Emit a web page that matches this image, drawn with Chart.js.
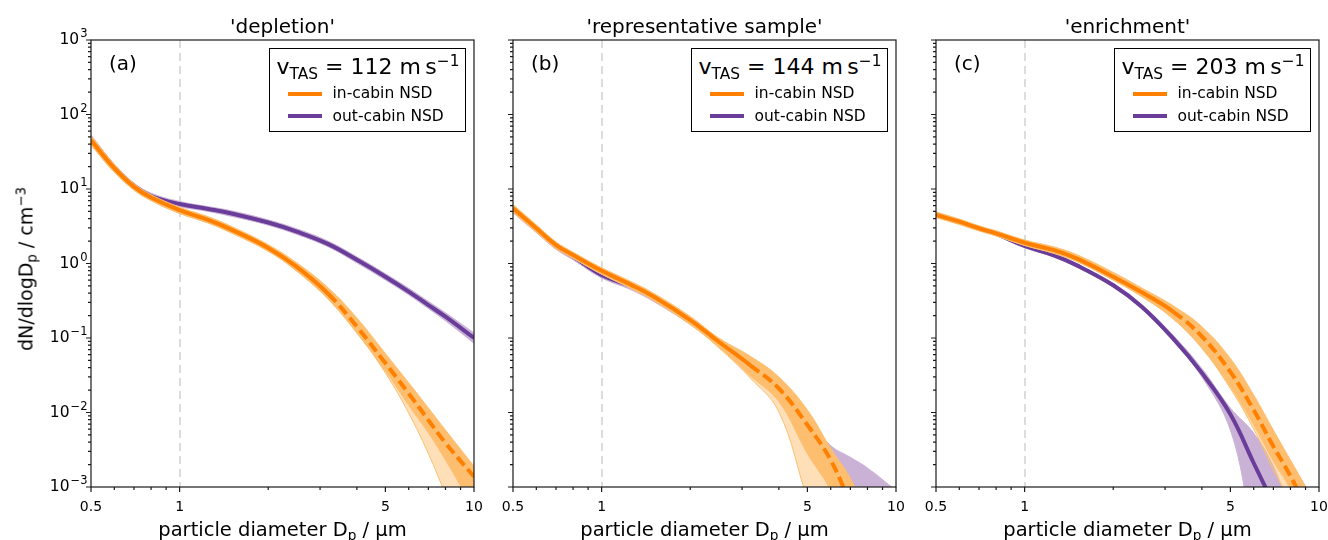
<!DOCTYPE html>
<html>
<head>
<meta charset="utf-8">
<script src="https://cdn.jsdelivr.net/npm/chart.js@4.4.1/dist/chart.umd.min.js"></script>
<style>
  body { margin: 0; background: #fff; }
  #fig { position: relative; width: 1328px; height: 540px; overflow: hidden; font-family: "DejaVu Sans", sans-serif; color: #000; }
  #fig canvas { position: absolute; left: 0; top: 0; }
  .txt { position: absolute; white-space: nowrap; line-height: 1; }
  .title { font-size: 20px; top: 16px; transform: translateX(-50%); }
  .xlabel { font-size: 19.5px; top: 519.5px; transform: translateX(-50%); }
  .ylabel { font-size: 19px; left: 25.5px; top: 269px; transform: translate(-50%, -50%) rotate(-90deg); }
  .tag { font-size: 20px; top: 53px; }
  .ytick { font-size: 15.5px; text-align: right; }
  .ytick sup { font-size: 0.74em; top: -0.6em; margin-left: 1px; }
  .legend { position: absolute; top: 48px; width: 197px; height: 84px; box-sizing: border-box; border: 1.5px solid #000; background: #fff; }
  .legend .vtas { left: 6.5px; top: 7px; font-size: 22px; }
  .legend .swatch { position: absolute; left: 17.5px; width: 34px; height: 4px; }
  .legend .name { left: 62.5px; font-size: 15.5px; }
  sub, sup { font-size: 0.7em; line-height: 0; position: relative; vertical-align: baseline; }
  sub { top: 0.3em; }
  sup { top: -0.5em; }
</style>
</head>
<body>
<div id="fig"></div>
<script>
// ---- data ----
const diameters = [0.5, 0.6, 0.7, 0.8, 1, 1.25, 1.5, 2, 2.5, 3.2, 4, 5, 6, 7, 8, 10];

const titles = ["'depletion'", "'representative sample'", "'enrichment'"];
const tags = ['(a)', '(b)', '(c)'];
const speeds = [112, 144, 203];
const seriesNames = ['in-cabin NSD', 'out-cabin NSD'];

const xTickValues = [0.5, 1, 5, 10];
const xTickLabels = ['0.5', '1', '5', '10'];
const xMinorTicks = [0.6, 0.7, 0.8, 0.9, 2, 3, 4, 6, 7, 8, 9];
const yTickExponents = [-3, -2, -1, 0, 1, 2, 3];
const yTickExpLabels = ['−3', '−2', '−1', '0', '1', '2', '3'];

// (a) depletion
const aInMid  = [45, 19, 10.7, 7.7, 5.2, 3.85, 2.85, 1.62, 0.9, 0.39, 0.142, 0.046, 0.018, 0.0079, 0.0039, 0.00138];
const aInHi   = [52, 21.5, 11.8, 8.4, 5.7, 4.25, 3.15, 1.79, 1.02, 0.47, 0.186, 0.062, 0.025, 0.0115, 0.0058, 0.0019];
const aInLo   = [39, 16.8, 9.7, 7.0, 4.7, 3.5, 2.57, 1.46, 0.79, 0.33, 0.117, 0.036, 0.0125, 0.0053, 0.0023, 0.0005];
const aInFan  = [39, 16.8, 9.7, 7.0, 4.7, 3.5, 2.57, 1.46, 0.79, 0.33, 0.117, 0.034, 0.0098, 0.0028, 0.0008, 0.0001];
const aOutMid = [47, 19.5, 11, 8.05, 6.3, 5.4, 4.7, 3.55, 2.68, 1.82, 1.12, 0.665, 0.42, 0.277, 0.193, 0.1];
const aOutHi  = [53, 21.5, 12, 8.8, 6.8, 5.8, 5.1, 3.85, 2.92, 1.99, 1.23, 0.73, 0.465, 0.31, 0.218, 0.117];
const aOutLo  = [42, 17.5, 10, 7.4, 5.8, 5.0, 4.3, 3.27, 2.46, 1.67, 1.02, 0.6, 0.38, 0.248, 0.17, 0.085];

// (b) representative sample
const bInMid  = [5.5, 2.97, 1.77, 1.3, 0.80, 0.525, 0.36, 0.174, 0.089, 0.043, 0.021, 0.0068, 0.0023, 0.0006, 0.0002, 0.00003];
const bInHi   = [6.2, 3.3, 1.95, 1.42, 0.88, 0.58, 0.40, 0.195, 0.1, 0.057, 0.03, 0.0108, 0.0033, 0.0013, 0.0004, 0.00005];
const bInLo   = [4.9, 2.65, 1.6, 1.18, 0.72, 0.47, 0.32, 0.152, 0.076, 0.031, 0.014, 0.0028, 0.0009, 0.0002, 0.00005, 0.00001];
const bInFan  = [4.9, 2.65, 1.6, 1.18, 0.72, 0.47, 0.32, 0.152, 0.074, 0.029, 0.0102, 0.0007, 0.0001, 0.00003, 0.00001, 0.000005];
const bOutMid = [5.3, 2.9, 1.72, 1.24, 0.70, 0.50, 0.35, 0.172, 0.088, 0.042, 0.02, 0.0066, 0.0022, 0.0006, 0.0002, 0.00005];
const bOutHi  = [5.9, 3.2, 1.9, 1.38, 0.79, 0.55, 0.38, 0.19, 0.097, 0.047, 0.023, 0.0085, 0.0036, 0.0025, 0.0018, 0.0009];
const bOutLo  = [4.8, 2.6, 1.55, 1.12, 0.64, 0.45, 0.31, 0.152, 0.079, 0.037, 0.017, 0.005, 0.0015, 0.0004, 0.0001, 0.00002];

// (c) enrichment
const cInMid  = [4.5, 3.64, 2.97, 2.54, 1.9, 1.52, 1.17, 0.665, 0.41, 0.225, 0.105, 0.035, 0.0108, 0.0035, 0.0014, 0.00025];
const cInHi   = [4.9, 3.95, 3.2, 2.75, 2.07, 1.68, 1.32, 0.76, 0.47, 0.27, 0.142, 0.053, 0.0172, 0.0058, 0.0023, 0.0005];
const cInLo   = [4.15, 3.35, 2.75, 2.35, 1.75, 1.38, 1.07, 0.6, 0.36, 0.18, 0.073, 0.022, 0.0068, 0.0022, 0.0009, 0.00008];
const cInFan  = [4.15, 3.35, 2.75, 2.35, 1.75, 1.38, 1.07, 0.6, 0.36, 0.18, 0.073, 0.021, 0.006, 0.0017, 0.0006, 0.00005];
const cOutMid = [4.6, 3.64, 2.97, 2.5, 1.72, 1.3, 0.95, 0.51, 0.263, 0.098, 0.034, 0.0095, 0.0021, 0.0006, 0.0002, 0.00003];
const cOutHi  = [4.9, 3.85, 3.15, 2.62, 1.82, 1.38, 1.0, 0.54, 0.28, 0.108, 0.039, 0.0115, 0.0053, 0.0019, 0.0005, 0.0001];
const cOutLo  = [4.3, 3.45, 2.8, 2.38, 1.63, 1.23, 0.9, 0.48, 0.245, 0.09, 0.030, 0.0058, 0.0003, 0.00008, 0.00003, 0.00001];

const DASH_FROM = 3.2;     // in-cabin fit is dashed beyond this diameter
const REF_DIAMETER = 1;    // grey dashed guide line

// ---- layout / style ----
const W = 1328, H = 540;
const PLOT_TOP = 40, PLOT_BOTTOM = 487;
const Y_AXIS_W = 60, X_AXIS_H = 30;
const panelLeft = [91, 513, 936];
const panelRight = [474, 896, 1319];

const ORANGE = '#ff7f00', ORANGE_BAND = '#fdbf6f', ORANGE_FAN = 'rgba(253,191,111,0.5)';
const PURPLE = '#6a3d9a', PURPLE_BAND = '#cab2d6';
const FONT = 'DejaVu Sans';

const panels = [
  { inMid: aInMid, inHi: aInHi, inLo: aInLo, inFan: aInFan, outMid: aOutMid, outHi: aOutHi, outLo: aOutLo },
  { inMid: bInMid, inHi: bInHi, inLo: bInLo, inFan: bInFan, outMid: bOutMid, outHi: bOutHi, outLo: bOutLo },
  { inMid: cInMid, inHi: cInHi, inLo: cInLo, inFan: cInFan, outMid: cOutMid, outHi: cOutHi, outLo: cOutLo }
];

function pts(arr) {
  return diameters.map((d, i) => ({ x: d, y: arr[i] }));
}

// frame, tick marks and the 1 µm guide line
const axesFrame = {
  id: 'axesFrame',
  beforeDatasetsDraw(chart) {
    const { ctx, chartArea: a, scales: { x } } = chart;
    const px = Math.round(x.getPixelForValue(REF_DIAMETER));
    ctx.save();
    ctx.strokeStyle = '#dcdcdc';
    ctx.lineWidth = 2;
    ctx.setLineDash([8, 5]);
    ctx.beginPath();
    ctx.moveTo(px, a.top);
    ctx.lineTo(px, a.bottom);
    ctx.stroke();
    ctx.restore();
  },
  afterDatasetsDraw(chart) {
    const { ctx, chartArea: a, scales: { x, y } } = chart;
    ctx.save();
    ctx.strokeStyle = '#1a1a1a';
    ctx.lineWidth = 1.2;
    ctx.strokeRect(a.left, a.top, a.right - a.left, a.bottom - a.top);
    ctx.beginPath();
    xTickValues.forEach(v => {
      const p = x.getPixelForValue(v);
      ctx.moveTo(p, a.bottom); ctx.lineTo(p, a.bottom + 5);
    });
    xMinorTicks.forEach(v => {
      const p = x.getPixelForValue(v);
      ctx.moveTo(p, a.bottom); ctx.lineTo(p, a.bottom + 3);
    });
    yTickExponents.forEach(e => {
      const p = y.getPixelForValue(Math.pow(10, e));
      ctx.moveTo(a.left, p); ctx.lineTo(a.left - 5, p);
      if (e < 3) {
        for (let m = 2; m <= 9; m++) {
          const q = y.getPixelForValue(m * Math.pow(10, e));
          ctx.moveTo(a.left, q); ctx.lineTo(a.left - 3, q);
        }
      }
    });
    ctx.stroke();
    ctx.restore();
  }
};

function makeChart(canvas, p, i) {
  const line = { pointRadius: 0, tension: 0.4, fill: false };
  const datasets = [
    Object.assign({}, line, {
      data: pts(p.inMid), borderColor: ORANGE, borderWidth: 4,
      segment: { borderDash: ctx => ctx.p0.parsed.x >= DASH_FROM ? [11, 5] : undefined }
    }),
    Object.assign({}, line, { data: pts(p.inHi), borderColor: ORANGE_BAND, backgroundColor: ORANGE_BAND, borderWidth: 1, fill: '+1' }),
    Object.assign({}, line, { data: pts(p.inLo), borderColor: ORANGE_BAND, backgroundColor: ORANGE_FAN, borderWidth: 1, fill: '+1' }),
    Object.assign({}, line, { data: pts(p.inFan), borderColor: ORANGE_BAND, borderWidth: 1 }),
    Object.assign({}, line, { data: pts(p.outMid), borderColor: PURPLE, borderWidth: 4 }),
    Object.assign({}, line, { data: pts(p.outHi), borderColor: PURPLE_BAND, backgroundColor: PURPLE_BAND, borderWidth: 1, fill: '+1' }),
    Object.assign({}, line, { data: pts(p.outLo), borderColor: PURPLE_BAND, borderWidth: 1 })
  ];

  return new Chart(canvas, {
    type: 'line',
    data: { datasets },
    options: {
      responsive: false,
      animation: false,
      events: [],
      layout: {
        padding: {
          left: panelLeft[i] - Y_AXIS_W,
          right: W - panelRight[i],
          top: PLOT_TOP,
          bottom: H - PLOT_BOTTOM - X_AXIS_H
        }
      },
      plugins: { legend: { display: false }, tooltip: { enabled: false }, title: { display: false } },
      scales: {
        x: {
          type: 'logarithmic',
          min: 0.5, max: 10,
          afterBuildTicks: s => { s.ticks = xTickValues.map(v => ({ value: v })); },
          afterFit: s => { s.height = X_AXIS_H; s.paddingLeft = 0; s.paddingRight = 0; },
          grid: { display: false, drawTicks: true, tickLength: 5 },
          border: { display: false },
          ticks: {
            autoSkip: false, maxRotation: 0, padding: 7, color: '#000',
            font: { family: FONT, size: 14 },
            callback: (v, k) => xTickLabels[k]
          }
        },
        y: {
          type: 'logarithmic',
          min: 1e-3, max: 1e3,
          afterBuildTicks: s => { s.ticks = yTickExponents.map(e => ({ value: Math.pow(10, e) })); },
          afterFit: s => { s.width = Y_AXIS_W; s.paddingTop = 0; s.paddingBottom = 0; },
          grid: { display: false, drawTicks: false },
          border: { display: false },
          ticks: { display: false }
        }
      }
    },
    plugins: [axesFrame]
  });
}

const fig = document.getElementById('fig');

function addText(cls, html, css, parent) {
  const el = document.createElement('div');
  el.className = 'txt ' + cls;
  el.innerHTML = html;
  Object.assign(el.style, css || {});
  (parent || fig).appendChild(el);
  return el;
}

panels.forEach((p, i) => {
  const canvas = document.createElement('canvas');
  canvas.width = W;
  canvas.height = H;
  fig.appendChild(canvas);
  const chart = makeChart(canvas, p, i);

  // y tick labels (10^n) only on the first panel, placed from the chart's own scale
  if (i === 0) {
    const ys = chart.scales.y;
    yTickExponents.forEach((e, k) => {
      const py = ys.getPixelForValue(Math.pow(10, e));
      addText('ytick', '10<sup>' + yTickExpLabels[k] + '</sup>',
        { right: (W - chart.chartArea.left + 3.5) + 'px', top: (py - 7.9) + 'px' });
    });
  }

  const cx = (panelLeft[i] + panelRight[i]) / 2;
  addText('title', titles[i], { left: cx + 'px' });
  addText('xlabel', 'particle diameter D<sub>p</sub> / µm', { left: cx + 'px' });
  addText('tag', tags[i], { left: (panelLeft[i] + 18) + 'px' });

  const box = document.createElement('div');
  box.className = 'legend';
  box.style.left = (panelRight[i] - 205) + 'px';
  fig.appendChild(box);
  addText('vtas', 'v<sub>TAS</sub> = ' + speeds[i] + ' m&thinsp;s<sup>−1</sup>', null, box);
  const rows = [{ c: ORANGE, top: 42.8, ty: 37.4 }, { c: PURPLE, top: 65.2, ty: 59.7 }];
  rows.forEach((r, k) => {
    const sw = document.createElement('div');
    sw.className = 'swatch';
    sw.style.top = r.top + 'px';
    sw.style.background = r.c;
    box.appendChild(sw);
    addText('name', seriesNames[k], { top: r.ty + 'px' }, box);
  });
});

addText('ylabel', 'dN/dlogD<sub>p</sub> / cm<sup>−3</sup>');
</script>
</body>
</html>
